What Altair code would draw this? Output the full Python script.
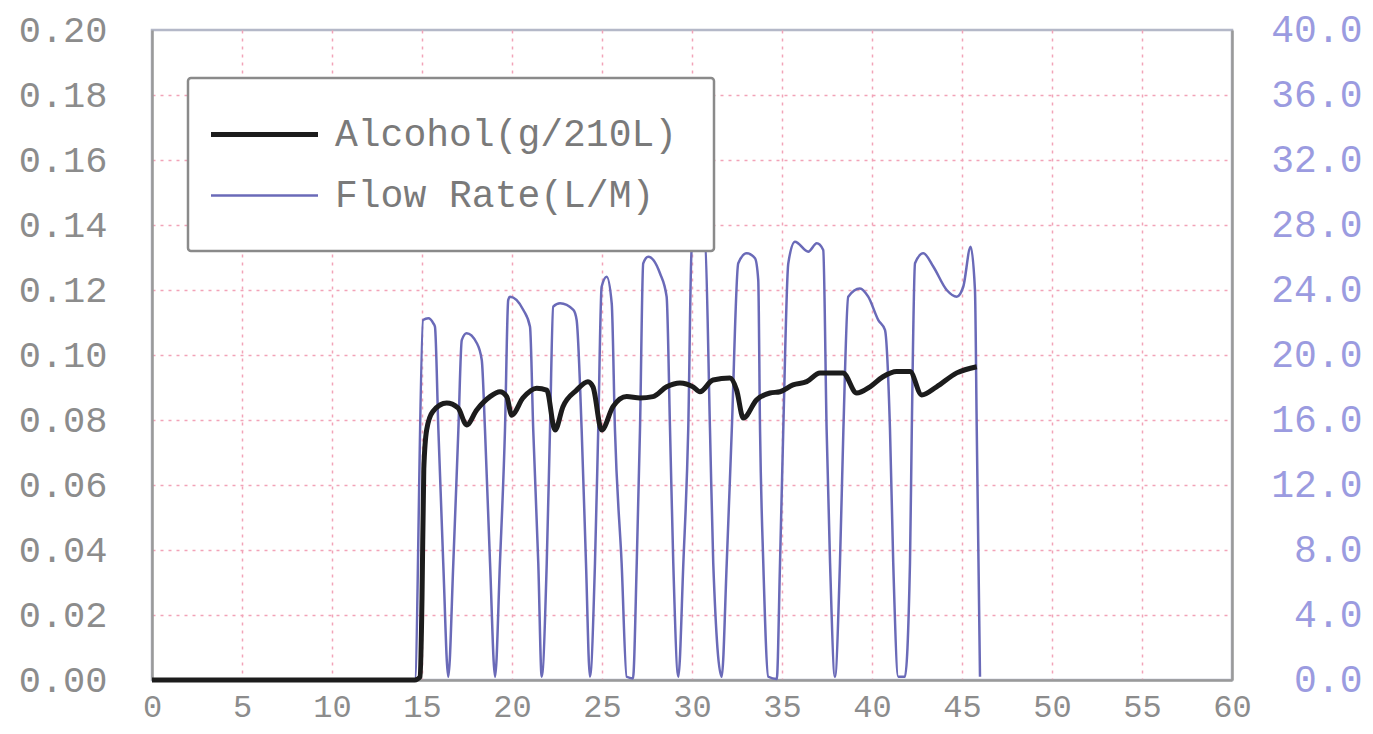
import altair as alt
import pandas as pd

# Time (s) and alcohol concentration (g/210L)
alc_t = [0, 14.6, 14.9, 15.0, 15.1, 15.26, 15.6, 16.37, 17.0, 17.48, 18.04, 18.78, 19.33, 19.71,
         19.98, 20.61, 21.37, 21.93, 22.39, 22.83, 23.59, 24.22, 24.5, 24.98, 25.61, 26.37,
         27.11, 27.83, 28.59, 29.33, 30.06, 30.44, 31.17, 32.11, 32.48, 32.85, 33.59, 34.33,
         34.89, 35.61, 36.37, 37.11, 38.39, 39.15, 39.89, 40.61, 41.37, 42.11, 42.76, 43.59,
         44.71, 45.82]
alc_v = [0, 0, 0.001, 0.025, 0.065, 0.077, 0.0826, 0.0852, 0.0837, 0.0785, 0.0831, 0.0872, 0.0887,
         0.0872, 0.0815, 0.0868, 0.0898, 0.0892, 0.0769, 0.0841, 0.0892, 0.0918, 0.0902, 0.0769,
         0.0841, 0.0872, 0.0868, 0.0872, 0.0902, 0.0914, 0.0902, 0.0887, 0.0923, 0.0929, 0.0892,
         0.0806, 0.0862, 0.0883, 0.0887, 0.0908, 0.0918, 0.0945, 0.0945, 0.0883, 0.0902, 0.0933,
         0.0949, 0.0949, 0.0877, 0.0902, 0.0945, 0.0964]

# Time (s) and flow rate (L/M)
flow_t = [0, 14.6, 15.06, 15.35, 15.63, 15.72, 15.91, 16.18, 16.46, 16.74, 17.02, 17.21, 17.48,
          18.04, 18.32, 18.5, 18.78, 19.06, 19.33, 19.61, 19.79, 19.89, 20.63, 21.0, 21.18, 21.46,
          21.65, 21.93, 22.11, 22.29, 22.67, 23.41, 23.59, 23.87, 24.11, 24.33, 24.61, 24.79,
          24.98, 25.26, 25.54, 25.72, 26.09, 26.37, 26.72, 26.93, 27.11, 27.29, 27.57, 28.22,
          28.59, 28.78, 28.96, 29.24, 29.52, 29.79, 29.98, 30.28, 30.72, 31.0, 31.18, 31.65,
          31.93, 32.21, 32.57, 33.04, 33.5, 33.68, 33.78, 33.96, 34.24, 34.71, 34.89, 35.07,
          35.35, 35.72, 36.46, 36.93, 37.29, 37.48, 37.67, 37.94, 38.22, 38.41, 38.68, 39.33,
          39.79, 40.35, 40.72, 41.0, 41.18, 41.46, 41.83, 42.11, 42.21, 42.39, 42.85, 43.41,
          44.15, 44.71, 45.07, 45.48, 45.72, 45.82, 46.0]
flow_v = [0, 0, 22.15, 22.26, 21.95, 21.74, 15.38, 7.2, 0.2, 7.2, 15.38, 20.92, 21.34,
          20.74, 19.69, 15.38, 7.2, 0.2, 7.2, 15.38, 23.38, 23.59, 22.77, 21.74, 15.38, 7.2,
          0.2, 7.2, 15.38, 22.97, 23.18, 22.77, 22.15, 15.38, 7.2, 0.2, 7.2, 15.38,
          24.2, 24.82, 23.18, 15.38, 7.2, 0.2, 0.1, 7.2, 15.38, 25.64, 26.05, 25.03,
          23.59, 15.38, 7.2, 0.2, 7.2, 15.38, 26.46, 27.2, 27.0, 15.38, 7.2, 0.2,
          7.2, 15.38, 25.64, 26.26, 25.95, 24.62, 15.38, 7.2, 0.2, 0.06, 7.2, 15.38,
          25.64, 26.97, 26.36, 26.87, 26.46, 15.38, 7.2, 0.2, 7.2, 15.38, 23.59, 24.1,
          23.59, 22.15, 21.54, 15.38, 7.2, 0.2, 0.2, 7.2, 15.38, 25.64, 26.26, 25.43,
          24.0, 23.59, 24.2, 26.66, 24.0, 15.38, 0.2]

series_names = ["Alcohol(g/210L)", "Flow Rate(L/M)"]
series_colors = ["#1c1c1c", "#6a6ab8"]
series_widths = [5, 2.5]

x_ticks = list(range(0, 61, 5))
left_ticks = [round(i * 0.02, 2) for i in range(11)]
right_ticks = [i * 4 for i in range(11)]

alc_df = pd.DataFrame({"t": alc_t, "v": alc_v, "series": series_names[0]})
flow_df = pd.DataFrame({"t": flow_t, "v": flow_v, "series": series_names[1]})

FONT = "Liberation Mono"
GRID = "#f2a3b8"
BORDER = "#9a9a9a"

x_enc = alt.X("t:Q", scale=alt.Scale(domain=[0, 60], nice=False, zero=False),
              axis=alt.Axis(values=x_ticks, title=None, labelFont=FONT, labelFontSize=32,
                            labelColor="#8c8c8c", labelPadding=11, ticks=False,
                            domain=True, domainColor=BORDER, domainWidth=2.5,
                            grid=True, gridColor=GRID, gridDash=[3, 5], gridWidth=1.5,
                            gridOpacity={"condition": {"test": "datum.value === 0 || datum.value === 60",
                                                       "value": 0}, "value": 1},
                            labelFlush=False, zindex=0))

# custom stroke path: drawn length = 3 * sqrt(symbolSize)
legend_kw = dict(title=None, orient="none", legendX=36, legendY=48,
                 symbolType="M-3,0H3", symbolSize=1272, symbolOffset=20,
                 labelFont=FONT, labelFontSize=38, labelColor="#7a7a7a",
                 labelOffset=50, rowPadding=22, padding=36,
                 fillColor="white", strokeColor="#8a8a8a",
                 cornerRadius=3, labelLimit=600)

color_enc = alt.Color("series:N", scale=alt.Scale(domain=series_names, range=series_colors),
                      legend=alt.Legend(**legend_kw))
width_enc = alt.StrokeWidth("series:N", scale=alt.Scale(domain=series_names, range=series_widths),
                            legend=alt.Legend(**legend_kw))

flow_line = alt.Chart(flow_df).mark_line(interpolate="monotone").encode(
    x=x_enc,
    y=alt.Y("v:Q", scale=alt.Scale(domain=[0, 40], nice=False),
            axis=alt.Axis(orient="right", values=right_ticks, format=".1f", title=None,
                          labelFont=FONT, labelFontSize=38, labelColor="#9b9be0",
                          labelAlign="right", labelPadding=130, ticks=False,
                          domain=True, domainColor=BORDER, domainWidth=2.5,
                          grid=False, labelFlush=False, zindex=0)),
    color=color_enc,
    strokeWidth=width_enc,
)

alc_line = alt.Chart(alc_df).mark_line(interpolate="monotone").encode(
    x=x_enc,
    y=alt.Y("v:Q", scale=alt.Scale(domain=[0, 0.2], nice=False),
            axis=alt.Axis(orient="left", values=left_ticks, format=".2f", title=None,
                          labelFont=FONT, labelFontSize=37, labelColor="#8c8c8c",
                          labelPadding=45, ticks=False,
                          domain=True, domainColor=BORDER, domainWidth=2.5,
                          grid=True, gridColor=GRID, gridDash=[3, 5], gridWidth=1.5,
                          gridOpacity={"condition": {"test": "datum.value === 0 || datum.value === 0.2",
                                                     "value": 0}, "value": 1},
                          labelFlush=False, zindex=0)),
    color=color_enc,
    strokeWidth=width_enc,
)

chart = alt.layer(flow_line, alc_line).resolve_scale(y="independent").properties(
    width=1080, height=650,
    autosize=alt.AutoSizeParams(type="none"),
    padding={"left": 144, "top": 22, "right": 133, "bottom": 54},
).configure_view(stroke="#b4b8c8", strokeWidth=2.5).configure_legend(strokeWidth=2.5)

chart.save("out.html", embed_options={"renderer": "svg", "actions": False})
